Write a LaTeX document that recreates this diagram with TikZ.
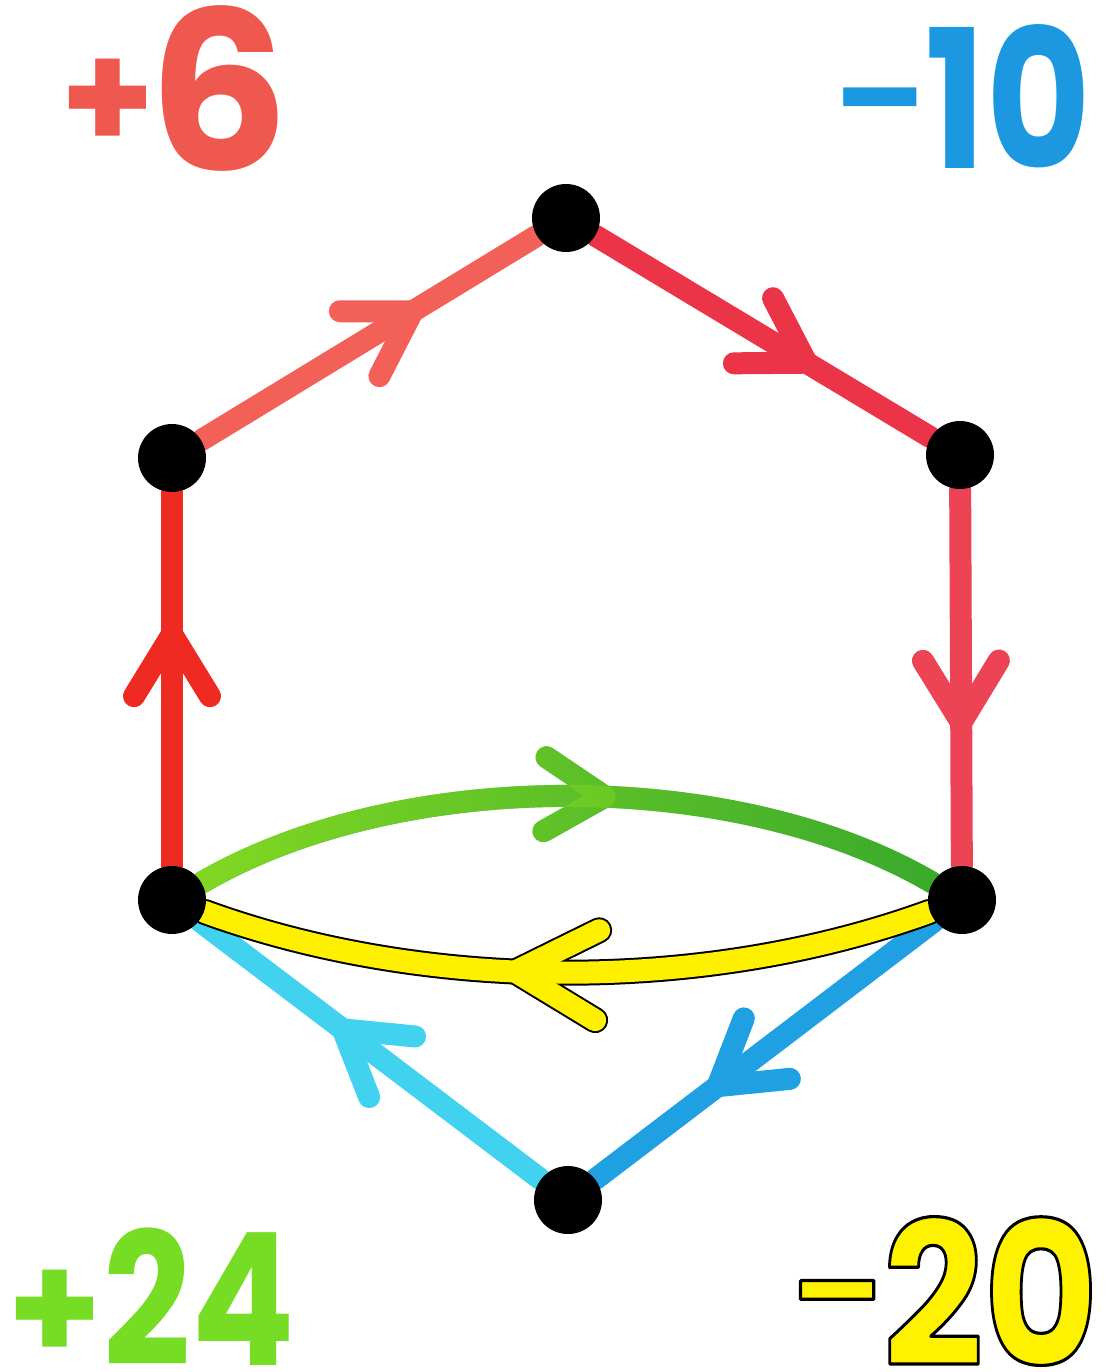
\documentclass[tikz,border=0pt]{standalone}
\usepackage{fontspec}
\newfontfamily\lblfont{Poppins}
\usetikzlibrary{decorations.markings,backgrounds,fadings}
\definecolor{redA}{RGB}{242,96,88}
\definecolor{redB}{RGB}{236,52,72}
\definecolor{redC}{RGB}{236,68,84}
\definecolor{redD}{RGB}{238,42,34}
\definecolor{greenDark}{RGB}{58,170,45}
\definecolor{greenLime}{RGB}{130,216,35}
\definecolor{blueE}{RGB}{30,160,226}
\definecolor{cyanE}{RGB}{64,210,238}
\definecolor{yellowE}{RGB}{255,240,0}
\definecolor{labRed}{RGB}{238,88,78}
\definecolor{labBlue}{RGB}{28,152,224}
\definecolor{labGreen}{RGB}{118,220,36}
\definecolor{labYellow}{RGB}{255,242,0}
\newcommand\outlinedtext[2]{{\color{#1}\special{pdf:literal direct 0 0 0 RG 1.8 w 1 j 2 Tr}#2\special{pdf:literal direct 0 Tr}}}
\tikzset{
  dot/.style={circle,fill=black,draw=none,minimum size=1.36cm,inner sep=0pt},
  edge/.style={line width=0.44cm,line cap=round},
  edgeoutline/.style={line width=0.52cm,line cap=round},
  chev/.style n args={3}{postaction={decorate,decoration={markings,
      mark=at position #1 with {\draw[line cap=round,line join=round] (-#2,#3) -- (0,0) -- (-#2,-#3);}}}},
  lbl/.style={inner sep=0pt,anchor=base west,font=\lblfont\bfseries}
}
\begin{document}
\begin{tikzpicture}[x=0.02cm,y=-0.02cm]
\useasboundingbox (0,0) rectangle (1106,1372);
% vertices
\node[dot] (T) at (566,218) {};
\node[dot] (LU) at (172,458) {};
\node[dot] (RU) at (960,455) {};
\node[dot] (LL) at (172,900) {};
\node[dot] (RL) at (962,900) {};
\node[dot] (B) at (568,1200) {};
\begin{scope}[on background layer]
\fill[white] (0,0) rectangle (1106,1372);
\draw[edge,redA,chev={0.63}{62}{38}] (LU) -- (T);
\draw[edge,redB,chev={0.63}{62}{38}] (T) -- (RU);
\draw[edge,redC,chev={0.62}{62}{38}] (RU) -- (RL);
\draw[edge,redD,chev={0.62}{62}{38}] (LL) -- (LU);
\draw[edge,greenDark,chev={0.55}{60}{37}] (LL) .. controls (400,767) and (735,767) .. (RL);
\draw[edge,greenLime,path fading=east,chev={0.55}{60}{37}] (LL) .. controls (400,767) and (735,767) .. (RL);
\draw[edge,blueE,chev={0.64}{62}{38}] (RL) -- (B);
\draw[edge,cyanE,chev={0.58}{62}{38}] (B) -- (LL);
\draw[edgeoutline,black,chev={0.57}{82}{45}] (RL) .. controls (707,993) and (427,993) .. (LL);
\draw[edge,yellowE,chev={0.57}{82}{45}] (RL) .. controls (707,993) and (427,993) .. (LL);
\end{scope}
% labels
\node[lbl,text=labRed] (l6) at (60,170) {\raisebox{11pt}{\fontsize{86}{86}\selectfont +}\kern-4pt{\fontsize{126}{126}\selectfont 6}};
\node[lbl,text=labBlue] (l10) at (834,168) {\raisebox{14pt}{\fontsize{75}{75}\selectfont –}\kern0pt\scalebox{0.83}[1]{\fontsize{110}{110}\selectfont 10}};
\node[lbl,text=labGreen] (l24) at (7,1365) {\raisebox{2pt}{\fontsize{86}{86}\selectfont +}\kern1pt\scalebox{0.83}[1]{\fontsize{105}{105}\selectfont 24}};
\node[lbl] (l20) at (791,1366) {\outlinedtext{labYellow}{\raisebox{17pt}{\fontsize{75}{75}\selectfont –}\kern0pt\scalebox{0.88}[1]{\fontsize{114}{114}\selectfont 20}}};
\end{tikzpicture}
\end{document}
